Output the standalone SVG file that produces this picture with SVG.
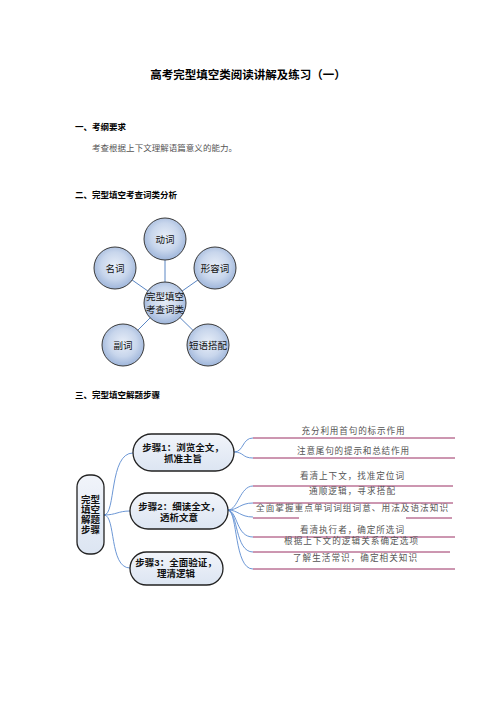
<svg xmlns="http://www.w3.org/2000/svg" width="496" height="702" viewBox="0 0 496 702">
<style>
.h{font-family:"Liberation Sans","Noto Sans CJK SC",sans-serif;font-weight:bold;fill:#000}
.b{font-family:"Liberation Serif","Noto Sans CJK SC",serif;fill:#555}
.c{font-family:"Liberation Sans","Noto Sans CJK SC",sans-serif;font-size:9.5px;fill:#111;text-anchor:middle}
.s{font-family:"Liberation Sans","Noto Sans CJK SC",sans-serif;font-weight:bold;font-size:9.5px;fill:#111;text-anchor:middle}
.r{font-family:"Liberation Serif","Noto Sans CJK SC",serif;font-size:8.6px;fill:#555;text-anchor:middle}
.circ{fill:url(#cg);stroke:#3a3a3a;stroke-width:1}
.spoke{stroke:#5a86c4;stroke-width:1;fill:none}
.cv{stroke:#5b8bd0;stroke-width:0.9;fill:none}
.ln{stroke:#9a2f62;stroke-width:1;fill:none}
.pill{fill:url(#pg);stroke:#222;stroke-width:1.3}
</style>
<defs>
<radialGradient id="cg" cx="50%" cy="45%" r="55%">
<stop offset="0" stop-color="#e8eef8"/>
<stop offset="0.6" stop-color="#c8d6ec"/>
<stop offset="1" stop-color="#9eb5da"/>
</radialGradient>
<linearGradient id="pg" x1="0" y1="0" x2="0" y2="1">
<stop offset="0" stop-color="#f1f4fa"/>
<stop offset="1" stop-color="#dce5f2"/>
</linearGradient>
<clipPath id="clipT"><rect x="240" y="503.5" width="230" height="20"/></clipPath>
</defs>
<rect width="496" height="702" fill="#fff"/>

<g id="headings">
<text class="h" x="248" y="79" font-size="11.5" text-anchor="middle">高考完型填空类阅读讲解及练习（一）</text>
<text class="h" x="75" y="130" font-size="8.5">一、考纲要求</text>
<text class="b" x="92" y="151" font-size="8.5" textLength="145">考查根据上下文理解语篇意义的能力。</text>
<text class="h" x="75" y="198" font-size="8.5">二、完型填空考查词类分析</text>
<text class="h" x="75" y="398" font-size="8.5">三、完型填空解题步骤</text>
</g>

<g id="spokes">
<line class="spoke" x1="165" y1="303" x2="165" y2="239"/>
<line class="spoke" x1="165" y1="303" x2="115" y2="268"/>
<line class="spoke" x1="165" y1="303" x2="215" y2="268"/>
<line class="spoke" x1="165" y1="303" x2="123" y2="345"/>
<line class="spoke" x1="165" y1="303" x2="208" y2="345"/>
</g>
<g id="n-dongci"><circle class="circ" cx="165" cy="239" r="21"/><text class="c" x="165" y="242.5">动词</text></g>
<g id="n-mingci"><circle class="circ" cx="115" cy="268" r="21"/><text class="c" x="115" y="271.5">名词</text></g>
<g id="n-xingrongci"><circle class="circ" cx="215" cy="268" r="21"/><text class="c" x="215" y="271.5">形容词</text></g>
<g id="n-center"><circle class="circ" cx="165" cy="303" r="21"/><text class="c" x="165" y="299.5">完型填空</text><text class="c" x="165" y="312.5">考查词类</text></g>
<g id="n-fuci"><circle class="circ" cx="123" cy="345" r="21"/><text class="c" x="123" y="348.5">副词</text></g>
<g id="n-duanyu"><circle class="circ" cx="208" cy="345" r="21"/><text class="c" x="208" y="348.5">短语搭配</text></g>

<g id="connectors">
<path class="cv" d="M104,515 C116,515 109,453 133,453"/>
<path class="cv" d="M104,515 C116,515 118,511 130,511"/>
<path class="cv" d="M104,515 C116,515 109,568 130,568"/>
<path class="cv" d="M234,452 C244,452 242,438 253,438"/>
<path class="cv" d="M234,452 C244,452 242,458 253,458"/>
<path class="cv" d="M228,510 C238,510 240,486 253,486"/>
<path class="cv" d="M228,510 C238,510 240,503 253,503"/>
<path class="cv" d="M228,510 C238,510 240,517 253,517"/>
<path class="cv" d="M228,510 C238,512 236,537 253,537"/>
<path class="cv" d="M228,510 C238,512 235,552 253,552"/>
<path class="cv" d="M228,510 C238,512 234,569 253,569"/>
<path class="ln" d="M253,438 H455"/>
<path class="ln" d="M253,458 H455"/>
<path class="ln" d="M253,486 H453"/>
<path class="ln" d="M253,503 H453"/>
<path class="ln" d="M253,518 H299 M406,518 H452"/>
<path class="ln" d="M253,537 H455"/>
<path class="ln" d="M253,552 H450"/>
<path class="ln" d="M253,569 H455"/>
</g>

<g id="n-root"><rect class="pill" x="77" y="475" width="27" height="79" rx="12"/>
<text class="s" x="90.5" y="502.5">完型</text><text class="s" x="90.5" y="512.5">填空</text><text class="s" x="90.5" y="522.5">解题</text><text class="s" x="90.5" y="532.5">步骤</text></g>
<g id="n-step1"><rect class="pill" x="133" y="434" width="101" height="37" rx="18.5"/>
<text class="s" x="183" y="450.5">步骤1：浏览全文，</text><text class="s" x="183" y="461.5">抓准主旨</text></g>
<g id="n-step2"><rect class="pill" x="130" y="493" width="98" height="36" rx="18"/>
<text class="s" x="179" y="510">步骤2：细读全文，</text><text class="s" x="179" y="521">透析文意</text></g>
<g id="n-step3"><rect class="pill" x="130" y="552" width="93" height="33" rx="16.5"/>
<text class="s" x="176" y="565.5">步骤3：全面验证，</text><text class="s" x="176" y="576.5">理清逻辑</text></g>

<g id="labels">
<text class="r" x="353" y="434" textLength="103">充分利用首句的标示作用</text>
<text class="r" x="353" y="454" textLength="112">注意尾句的提示和总结作用</text>
<text class="r" x="352" y="479" textLength="104">看清上下文，找准定位词</text>
<text class="r" x="352" y="494" textLength="86">通顺逻辑，寻求搭配</text>
<text class="r" x="352" y="510.5" textLength="192" clip-path="url(#clipT)">全面掌握重点单词词组词意、用法及语法知识</text>
<text class="r" x="352" y="533" textLength="104">看清执行者，确定所选词</text>
<text class="r" x="351" y="544" textLength="134">根据上下文的逻辑关系确定选项</text>
<text class="r" x="355" y="561" textLength="124">了解生活常识，确定相关知识</text>
</g>
</svg>
